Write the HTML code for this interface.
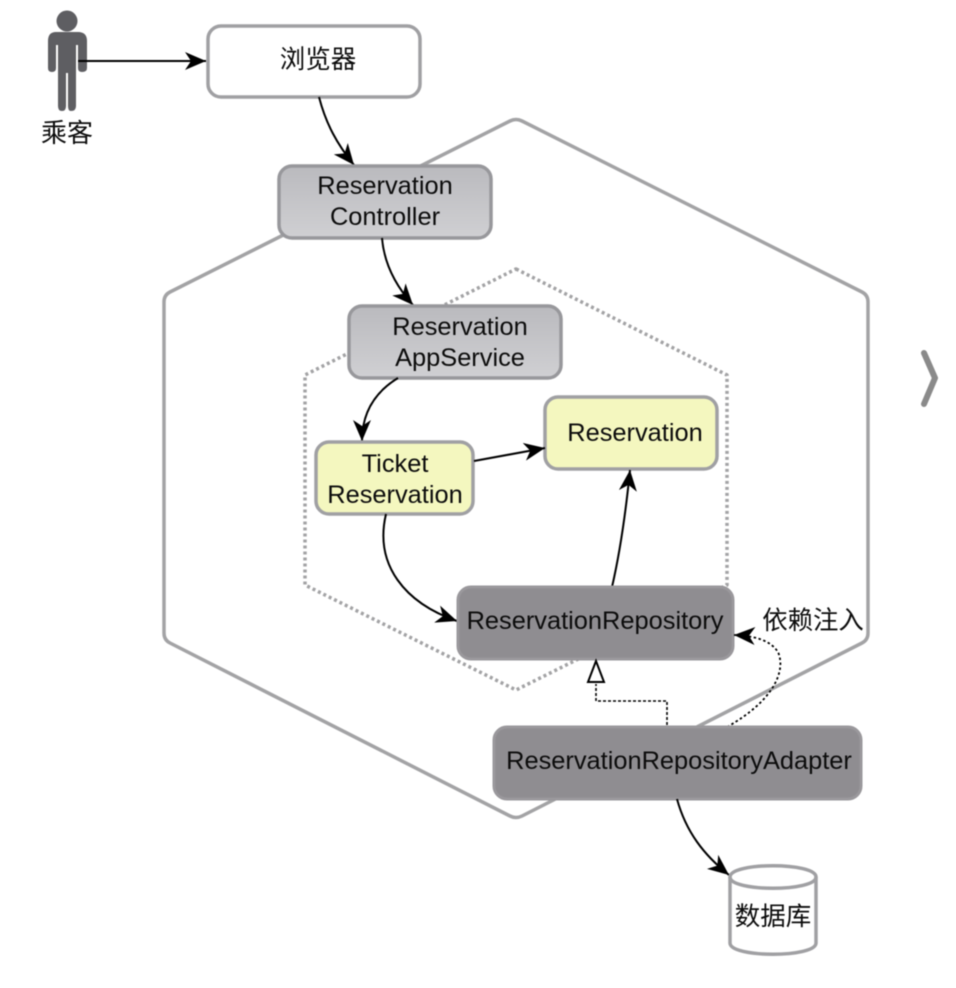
<!DOCTYPE html>
<html>
<head>
<meta charset="utf-8">
<style>
html,body{margin:0;padding:0;background:#fff;width:956px;height:988px;overflow:hidden}
svg{display:block}
text{font-family:"Liberation Sans","Noto Sans CJK SC",sans-serif;font-size:25.4px;fill:#0c0c0c;text-anchor:middle}
</style>
</head>
<body>
<svg width="956" height="988" viewBox="0 0 956 988" xmlns="http://www.w3.org/2000/svg">
<defs>
<linearGradient id="g" x1="0" y1="0" x2="0" y2="1"><stop offset="0" stop-color="#bababe"/><stop offset="1" stop-color="#d0d0d3"/></linearGradient>
<marker id="a" markerUnits="userSpaceOnUse" markerWidth="24" markerHeight="20" refX="21" refY="9" orient="auto"><path d="M0 0 L21 9 L0 18 L6 9 Z" fill="#000"/></marker>
</defs>
<g style="filter:blur(.5px)">
<path d="M510 121 Q516 118 522 121 L862 292 Q868 295 868 302 L868 633 Q868 640 862 643 L522 816 Q516 819 510 816 L170 643 Q164 640 164 633 L164 302 Q164 295 170 292 Z" fill="#fff" stroke="#a3a3a5" stroke-width="3.5"/>
<path d="M516 269 L727 375 L727 585 L516 690 L305 585 L305 375 Z" fill="#fff" stroke="#a3a3a5" stroke-width="3.5" stroke-dasharray="3 3" stroke-linejoin="round"/>

<circle cx="67" cy="21" r="10.5" fill="#5e5e62"/>
<path d="M56 32 H78 Q87 32 87 41 V68 Q87 72 82 72 Q78 72 78 68 V45 H76 V106 Q76 111 71 111 Q68 111 68 106 V73 H66 V106 Q66 111 62 111 Q58 111 58 106 V45 H56 V68 Q56 72 52 72 Q48 72 48 68 V41 Q48 32 56 32 Z" fill="#5e5e62"/>
<text x="67" y="142" style="font-size:26px">乘客</text>

<path d="M78 61 H206" fill="none" stroke="#000" stroke-width="2" marker-end="url(#a)"/>

<rect x="208" y="26" width="212" height="71" rx="13" fill="#fff" stroke="#a0a0a3" stroke-width="3.5"/>
<text x="318" y="68" style="font-size:25.5px">浏览器</text>

<path d="M319 97 C326 124 337 144 354 165" fill="none" stroke="#000" stroke-width="2" marker-end="url(#a)"/>

<rect x="279" y="166" width="212" height="72" rx="13" fill="url(#g)" stroke="#98989c" stroke-width="3.5"/>
<text x="385" y="194">Reservation</text>
<text x="385" y="225">Controller</text>

<path d="M382 238 C384 262 394 284 413 305" fill="none" stroke="#000" stroke-width="2" marker-end="url(#a)"/>

<rect x="349" y="306" width="212" height="72" rx="13" fill="url(#g)" stroke="#98989c" stroke-width="3.5"/>
<text x="460" y="335">Reservation</text>
<text x="460" y="366">AppService</text>

<path d="M398 378 C375 392 362 412 362 441" fill="none" stroke="#000" stroke-width="2" marker-end="url(#a)"/>

<rect x="316" y="442" width="157" height="72" rx="13" fill="#f4f7bf" stroke="#a0a0a3" stroke-width="3.5"/>
<text x="395" y="472">Ticket</text>
<text x="395" y="503">Reservation</text>

<rect x="545" y="397" width="172" height="72" rx="13" fill="#f4f7bf" stroke="#a0a0a3" stroke-width="3.5"/>
<text x="635" y="441">Reservation</text>

<path d="M474 461 L545 448" fill="none" stroke="#000" stroke-width="2" marker-end="url(#a)"/>

<path d="M386 514 C374 565 405 603 457 621" fill="none" stroke="#000" stroke-width="2" marker-end="url(#a)"/>

<path d="M612 587 C621 548 626 510 630 470" fill="none" stroke="#000" stroke-width="2" marker-end="url(#a)"/>

<rect x="458" y="587" width="275" height="72" rx="13" fill="#8f8d91" stroke="#9a989c" stroke-width="3"/>
<text x="595" y="629">ReservationRepository</text>

<text x="813" y="629" style="font-size:25.4px">依赖注入</text>

<path d="M667 730 V701 H596 V684" fill="none" stroke="#000" stroke-width="1.6" stroke-dasharray="3 2"/>
<path d="M596 661 L588 682 H604 Z" fill="#fff" stroke="#000" stroke-width="2"/>

<path d="M727 727 C775 700 786 670 778 652 C770 640 755 636 734 635" fill="none" stroke="#000" stroke-width="1.8" stroke-dasharray="2.5 2.5" marker-end="url(#a)"/>

<rect x="494" y="727" width="367" height="72" rx="13" fill="#8f8d91" stroke="#9a989c" stroke-width="3"/>
<text x="679" y="769">ReservationRepositoryAdapter</text>

<path d="M677 799 C686 832 704 855 729 875" fill="none" stroke="#000" stroke-width="2" marker-end="url(#a)"/>

<path d="M730 877 C730 862 816 862 816 877 V943 C816 958 730 958 730 943 Z" fill="#fff" stroke="#a0a0a3" stroke-width="3.5"/>
<path d="M730 877 C730 892 816 892 816 877" fill="none" stroke="#a0a0a3" stroke-width="3.5"/>
<text x="773" y="925" style="font-size:25.5px">数据库</text>

<path d="M924 353 L935 378 L924 404" fill="none" stroke="#8a8a8a" stroke-width="6" stroke-linecap="round" stroke-linejoin="round"/>
</g>
</svg>
</body>
</html>
